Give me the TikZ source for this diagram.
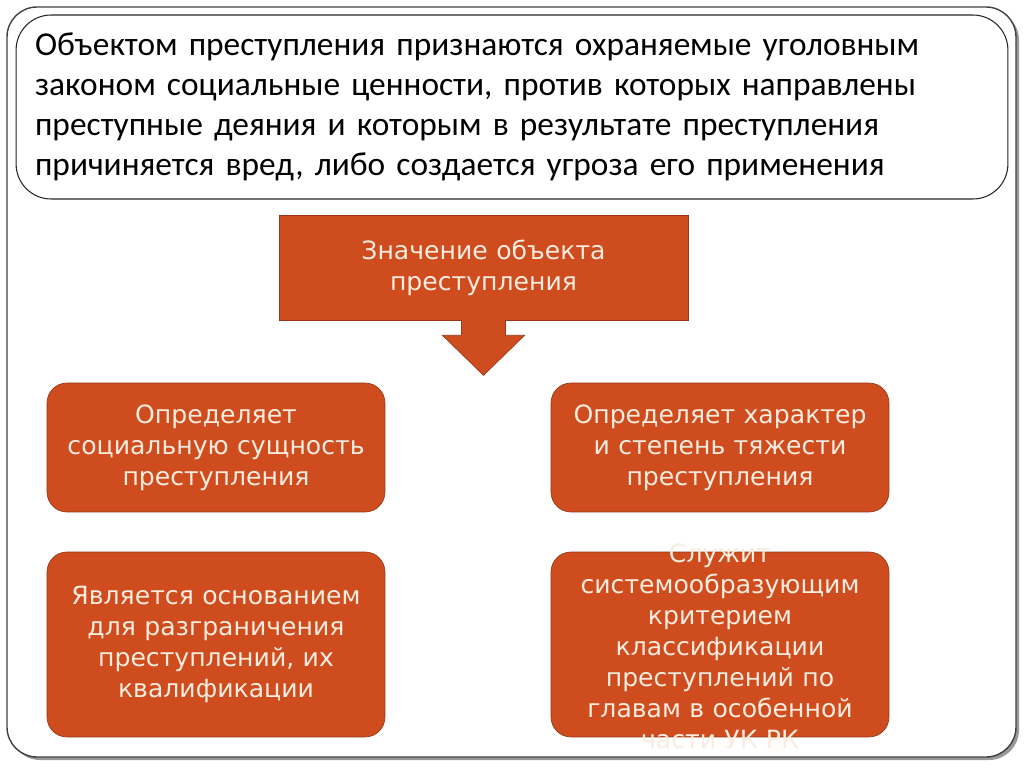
\documentclass[tikz,border=0pt]{standalone}
\usepackage{fontspec}
\setmainfont{Carlito}
\newfontfamily\boxfont{DejaVu Sans}
\usetikzlibrary{positioning,calc}
\definecolor{brick}{RGB}{207,76,30}
\definecolor{brickline}{RGB}{150,58,24}
\definecolor{cream}{RGB}{250,236,222}

\begin{document}
\begin{tikzpicture}[x=0.02cm, y=-0.02cm,
    outerframe/.style={draw=black!75, line width=0.8pt, rounded corners=0.6cm, fill=white},
    defbox/.style={draw=black!85, line width=0.6pt, rounded corners=0.7cm, minimum width=19.84cm, minimum height=3.68cm, text width=19.08cm, align=left, font=\fontsize{19}{22.8}\selectfont},
    headbox/.style={draw=brickline, fill=brick, minimum width=8.18cm, minimum height=2.1cm, text width=7.6cm, align=center, text=cream, font=\boxfont\fontsize{14.3}{17.6}\selectfont},
    role/.style={draw=brickline, fill=brick, rounded corners=0.4cm, minimum width=6.76cm, text width=6.4cm, align=center, text=cream, font=\boxfont\fontsize{14.3}{17.6}\selectfont},
    roletext/.style={text width=6.4cm, align=center, text=cream, font=\boxfont\fontsize{14.3}{17.6}\selectfont},
]
    \useasboundingbox (0,0) rectangle (1024,768);

    % Slide frame with shadow
    \fill[black!40, rounded corners=0.6cm] (10,10) rectangle (1019,760);
    \draw[outerframe] (7,7) rectangle (1016,757);

    % Definition
    \node[defbox] (def) at (512,107) {Объектом преступления признаются охраняемые уголовным\\
        законом социальные ценности, против которых направлены\\
        преступные деяния и которым в результате преступления\\
        причиняется вред, либо создается угроза его применения};

    % Heading with down arrow
    \node[headbox] (head) at (483.5,267.5) {Значение объекта\\преступления};
    \coordinate (tip) at ($(head.south)+(0,55)$);
    \filldraw[fill=brick, draw=brickline] ($(head.south)+(-22,-1)$) -- ($(head.south)+(-22,15)$)
        -- ($(head.south)+(-41,15)$) -- (tip) -- ($(head.south)+(41,15)$)
        -- ($(head.south)+(22,15)$) -- ($(head.south)+(22,-1)$);

    % Four roles
    \node[role, minimum height=2.58cm] (essence) at (216,447.5) {Определяет\\социальную сущность\\преступления};
    \node[role, minimum height=2.58cm] (gravity) at (720,447.5) {Определяет характер\\и степень тяжести\\преступления};
    \node[role, minimum height=3.7cm] (qualify) at (216,644.5) {Является основанием\\для разграничения\\преступлений, их\\квалификации};
    \node[role, minimum height=3.7cm] (system) at (720,644.5) {};
    \node[roletext] (systemtext) at ($(system.center)+(0,2)$) {Служит\\системообразующим\\критерием\\классификации\\преступлений по\\главам в особенной\\части УК РК};
\end{tikzpicture}
\end{document}
